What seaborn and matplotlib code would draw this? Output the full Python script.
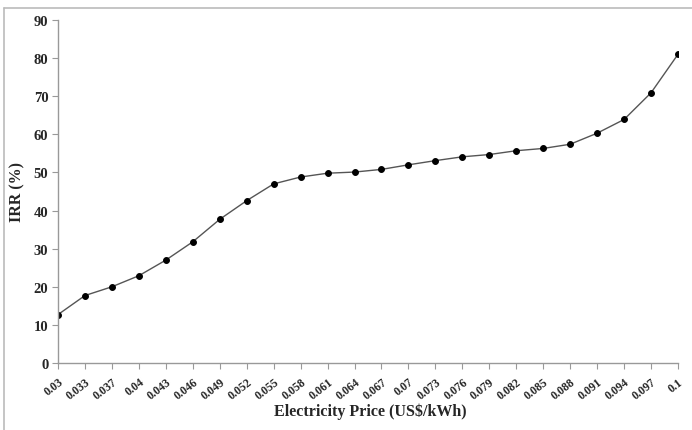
import matplotlib
matplotlib.use("Agg")
import matplotlib.pyplot as plt
import seaborn as sns
import pandas as pd
from matplotlib.lines import Line2D

prices = ["0.03", "0.033", "0.037", "0.04", "0.043", "0.046", "0.049", "0.052",
          "0.055", "0.058", "0.061", "0.064", "0.067", "0.07", "0.073", "0.076",
          "0.079", "0.082", "0.085", "0.088", "0.091", "0.094", "0.097", "0.1"]
irr = [12.7, 17.7, 20.0, 22.9, 27.0, 31.8, 37.7, 42.6,
       47.0, 48.8, 49.8, 50.1, 50.8, 52.0, 53.1, 54.1,
       54.7, 55.7, 56.3, 57.4, 60.3, 63.9, 70.9, 81.0]
yticks = [0, 10, 20, 30, 40, 50, 60, 70, 80, 90]

df = pd.DataFrame({"price": prices, "irr": irr})

sns.set_style("white")
plt.rcParams['font.family'] = ['Liberation Serif', 'DejaVu Serif']

fig = plt.figure(figsize=(6.92, 4.31), dpi=100)
W, H = 692, 431
ax = fig.add_axes([58 / W, (H - 364) / H, (678 - 58) / W, (364 - 21) / H])

sns.lineplot(data=df, x="price", y="irr", ax=ax, color="#555555", linewidth=1.0,
             marker="o", markersize=4.2, markerfacecolor="black",
             markeredgecolor="black", sort=False)

ax.set_xlim(0, len(prices) - 1)
ax.set_ylim(0, 90)
ax.set_yticks(yticks)
ax.set_yticklabels([str(v) for v in yticks], fontsize=10.5, fontweight="bold")
ax.set_xticks(range(len(prices)))
ax.set_xticklabels(prices, rotation=38, ha="right", rotation_mode="anchor",
                   fontsize=8.5, fontweight="bold")

for s in ["top", "right"]:
    ax.spines[s].set_visible(False)
for s in ["left", "bottom"]:
    ax.spines[s].set_color("#999999")
    ax.spines[s].set_linewidth(1.0)
ax.tick_params(axis="both", which="major", direction="out", length=4,
               width=0.8, color="#999999", left=True, bottom=True, pad=3)
ax.tick_params(axis="x", pad=5)

ax.set_xlabel("Electricity Price (US$/kWh)", fontsize=11.5, fontweight="bold")
ax.set_ylabel("IRR (%)", fontsize=11.5, fontweight="bold")
ax.xaxis.set_label_coords((370 - 58) / 620, -(404 - 364) / 343)
ax.yaxis.set_label_coords(-(58 - 25) / 620, 0.5)
ax.grid(False)

# outer frame (top and left lines)
fig.add_artist(Line2D([4 / W, 1.0], [1 - 9 / H, 1 - 9 / H], transform=fig.transFigure,
                      color="#bbbbbb", linewidth=1.2))
fig.add_artist(Line2D([4 / W, 4 / W], [0, 1 - 9 / H], transform=fig.transFigure,
                      color="#bbbbbb", linewidth=1.2))

fig.savefig("out.png", dpi=100)
